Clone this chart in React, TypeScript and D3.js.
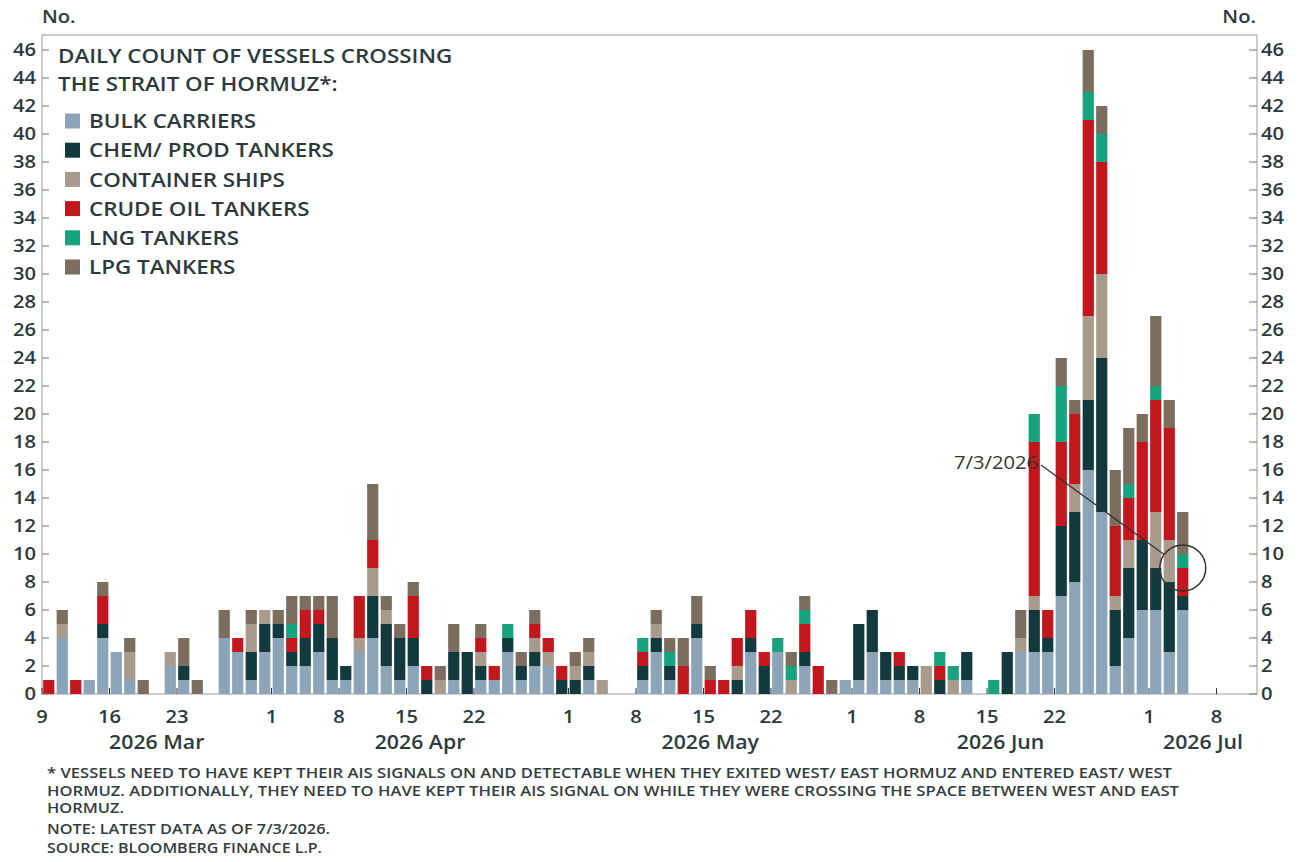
import React from "react";
import * as d3 from "d3";

// ---------- DATA ----------
const dates = [
  "2026-03-09","2026-03-10","2026-03-11","2026-03-12","2026-03-13","2026-03-16","2026-03-17","2026-03-18","2026-03-19","2026-03-20",
  "2026-03-23","2026-03-24","2026-03-25","2026-03-26","2026-03-27","2026-03-30","2026-03-31","2026-04-01","2026-04-02","2026-04-03",
  "2026-04-06","2026-04-07","2026-04-08","2026-04-09","2026-04-10","2026-04-13","2026-04-14","2026-04-15","2026-04-16","2026-04-17",
  "2026-04-20","2026-04-21","2026-04-22","2026-04-23","2026-04-24","2026-04-27","2026-04-28","2026-04-29","2026-04-30","2026-05-01",
  "2026-05-04","2026-05-05","2026-05-06","2026-05-07","2026-05-08","2026-05-11","2026-05-12","2026-05-13","2026-05-14","2026-05-15",
  "2026-05-18","2026-05-19","2026-05-20","2026-05-21","2026-05-22","2026-05-25","2026-05-26","2026-05-27","2026-05-28","2026-05-29",
  "2026-06-01","2026-06-02","2026-06-03","2026-06-04","2026-06-05","2026-06-08","2026-06-09","2026-06-10","2026-06-11","2026-06-12",
  "2026-06-15","2026-06-16","2026-06-17","2026-06-18","2026-06-19","2026-06-22","2026-06-23","2026-06-24","2026-06-25","2026-06-26",
  "2026-06-29","2026-06-30","2026-07-01","2026-07-02","2026-07-03",
];
const axisExtraDates = ["2026-07-06","2026-07-07","2026-07-08","2026-07-09","2026-07-10"];

const bulkCarriers = [
  0,4,0,1,4,3,1,0,0,2, 1,0,0,4,3,1,3,4,2,2, 3,1,1,3,4,2,1,2,0,0, 1,0,1,1,3,1,2,2,0,0,
  1,0,0,0,1,3,1,0,4,0, 0,0,3,0,3,0,2,0,0,1, 1,3,1,1,1,0,0,0,1,0, 0,0,3,3,3,7,8,16,13,2,
  4,6,6,3,6,
];
const chemProdTankers = [
  0,0,0,0,1,0,0,0,0,0, 1,0,0,0,0,2,2,1,1,2, 2,3,1,0,3,3,3,2,1,0, 2,3,1,0,1,1,1,0,1,1,
  1,0,0,0,1,1,1,0,1,0, 0,1,1,2,0,0,1,0,0,0, 4,3,2,1,1,0,1,0,2,0, 0,3,0,3,1,5,5,5,11,4,
  5,5,3,5,1,
];
const containerShips = [
  0,1,0,0,0,0,2,0,0,1, 0,0,0,0,0,2,1,0,0,0, 0,0,0,1,2,1,0,0,0,1, 0,0,1,0,0,0,1,1,0,1,
  1,1,0,0,0,1,0,0,0,0, 0,1,0,0,0,1,0,0,0,0, 0,0,0,0,0,2,0,1,0,0, 0,0,1,1,0,0,2,6,6,1,
  2,0,4,3,0,
];
const crudeOilTankers = [
  1,0,1,0,2,0,0,0,0,0, 0,0,0,0,1,0,0,0,1,2, 1,0,0,3,2,0,0,3,1,0, 0,0,1,1,0,0,1,1,1,0,
  0,0,0,0,1,0,0,2,0,1, 1,2,2,1,0,0,2,2,0,0, 0,0,0,1,0,0,1,0,0,0, 0,0,0,11,2,6,5,14,8,5,
  3,7,8,8,2,
];
const lngTankers = [
  0,0,0,0,0,0,0,0,0,0, 0,0,0,0,0,0,0,0,1,0, 0,0,0,0,0,0,0,0,0,0, 0,0,0,0,1,0,0,0,0,0,
  0,0,0,0,1,0,1,0,0,0, 0,0,0,0,1,1,1,0,0,0, 0,0,0,0,0,0,1,1,0,0, 1,0,0,2,0,4,0,2,2,0,
  1,0,1,0,1,
];
const lpgTankers = [
  0,1,0,0,1,0,1,1,0,0, 2,1,0,2,0,1,0,1,2,1, 1,3,0,0,4,1,1,1,0,1, 2,0,1,0,0,1,1,0,0,1,
  1,0,0,0,0,1,1,2,2,1, 0,0,0,0,0,1,1,0,1,0, 0,0,0,0,0,0,0,0,0,0, 0,0,2,0,0,2,1,3,2,4,
  4,2,5,2,3,
];

const seriesKeys = ["bulk", "chem", "container", "crude", "lng", "lpg"];
const seriesNames = ["BULK CARRIERS", "CHEM/ PROD TANKERS", "CONTAINER SHIPS", "CRUDE OIL TANKERS", "LNG TANKERS", "LPG TANKERS"];
const seriesColors = ["#8BA4B8", "#12393D", "#A99B8B", "#C1171D", "#18A37F", "#7D6D5E"];

const yTickValues = [0,2,4,6,8,10,12,14,16,18,20,22,24,26,28,30,32,34,36,38,40,42,44,46];
const xTickDates = ["2026-03-09","2026-03-16","2026-03-23","2026-04-01","2026-04-08","2026-04-15","2026-04-22","2026-05-01","2026-05-08","2026-05-15","2026-05-22","2026-06-01","2026-06-08","2026-06-15","2026-06-22","2026-07-01","2026-07-08"];
const xTickLabels = ["9","16","23","1","8","15","22","1","8","15","22","1","8","15","22","1","8"];
const monthKeys = ["2026-03","2026-04","2026-05","2026-06","2026-07"];
const monthLabels = ["2026 Mar","2026 Apr","2026 May","2026 Jun","2026 Jul"];

const titleLines = ["DAILY COUNT OF VESSELS CROSSING", "THE STRAIT OF HORMUZ*:"];
const annotationDate = "2026-07-03";
const annotationLabel = "7/3/2026";
const annotationValue = 9;
const footnotes = [
  "* VESSELS NEED TO HAVE KEPT THEIR AIS SIGNALS ON AND DETECTABLE WHEN THEY EXITED WEST/ EAST HORMUZ AND ENTERED EAST/ WEST",
  "HORMUZ. ADDITIONALLY, THEY NEED TO HAVE KEPT THEIR AIS SIGNAL ON WHILE THEY WERE CROSSING THE SPACE BETWEEN WEST AND EAST",
  "HORMUZ.",
  "NOTE: LATEST DATA AS OF 7/3/2026.",
  "SOURCE: BLOOMBERG FINANCE L.P.",
];

// ---------- LAYOUT ----------
const W = 1302;
const H = 862;
const PL = 42, PR = 1257, PT = 35, PB = 694;
const FONT = "'Open Sans', 'DejaVu Sans', sans-serif";
const TXT = "#2d3a3d";
const SX = 1.12;

function SText(props: any) {
  const { x, y, size, anchor = "start", weight = 600, fill = TXT, children, sx = SX } = props;
  return (
    <text
      transform={`translate(${x},${y}) scale(${sx},1)`}
      textAnchor={anchor}
      fontFamily={FONT}
      fontSize={size}
      fontWeight={weight}
      fill={fill}
    >
      {children}
    </text>
  );
}

export default function App() {
  const domain = [...dates, ...axisExtraDates];
  const x = d3.scaleBand<string>().domain(domain).range([PL, PR]).paddingInner(0.17).paddingOuter(0.085);
  const y = d3.scaleLinear().domain([0, 46]).range([PB, 50]);
  const step = x.step();
  const edge = (d: string) => (x(d) as number) - (step * x.paddingInner()) / 2;

  const rows = dates.map((d, i) => ({
    date: d,
    bulk: bulkCarriers[i],
    chem: chemProdTankers[i],
    container: containerShips[i],
    crude: crudeOilTankers[i],
    lng: lngTankers[i],
    lpg: lpgTankers[i],
  }));
  const stacked = d3.stack<any>().keys(seriesKeys)(rows);

  // month label centres
  const months = monthKeys.map((m, i) => {
    const idx = domain.map((d, j) => (d.startsWith(m) ? j : -1)).filter((j) => j >= 0);
    const a = edge(domain[idx[0]]);
    const b = edge(domain[idx[idx.length - 1]]) + step;
    return { label: monthLabels[i], cx: (a + b) / 2 };
  });

  // annotation
  const cx = (x(annotationDate) as number) + x.bandwidth() / 2;
  const cy = y(annotationValue);
  const r = 23;
  const lx0 = 1041, ly0 = 465;
  const dx = cx - lx0, dy = cy - ly0;
  const dist = Math.sqrt(dx * dx + dy * dy);
  const lx1 = cx - (dx / dist) * r;
  const ly1 = cy - (dy / dist) * r;

  const capOff = (s: number) => s * 0.36;

  return (
    <svg width={W} height={H} style={{ position: "absolute", left: 0, top: 0, background: "#fff" }}>
      <rect x={0} y={0} width={W} height={H} fill="#fff" />

      {/* frame */}
      <rect x={PL} y={PT} width={PR - PL} height={PB - PT} fill="none" stroke="#9c9c9c" strokeWidth={1} />

      {/* bars */}
      {stacked.map((s, si) => (
        <g key={s.key} fill={seriesColors[si]}>
          {s.map((seg: any, i: number) => {
            const h = y(seg[0]) - y(seg[1]);
            if (h <= 0) return null;
            return (
              <rect key={i} x={x(dates[i])} y={y(seg[1])} width={x.bandwidth()} height={h} />
            );
          })}
        </g>
      ))}

      {/* y ticks & labels */}
      {yTickValues.map((v) => (
        <g key={v}>
          <line x1={PL} x2={PL + 7} y1={y(v)} y2={y(v)} stroke="#7a7a7a" strokeWidth={1} />
          <line x1={PR - 8} x2={PR} y1={y(v)} y2={y(v)} stroke="#7a7a7a" strokeWidth={1} />
          <SText x={36} y={y(v) + capOff(18)} size={18} anchor="end">{v}</SText>
          <SText x={1261} y={y(v) + capOff(18)} size={18}>{v}</SText>
        </g>
      ))}

      {/* x ticks & labels */}
      {xTickDates.map((d, i) => (
        <g key={d}>
          <line x1={edge(d)} x2={edge(d)} y1={PB} y2={PB - 6} stroke="#333" strokeWidth={1} />
          <SText x={edge(d)} y={717 + capOff(18)} size={18} anchor="middle">{xTickLabels[i]}</SText>
        </g>
      ))}
      {months.map((m) => (
        <SText key={m.label} x={m.cx} y={742 + capOff(19)} size={19} anchor="middle">{m.label}</SText>
      ))}

      {/* units */}
      <SText x={42} y={17 + capOff(18)} size={18}>No.</SText>
      <SText x={1256} y={17 + capOff(18)} size={18} anchor="end">No.</SText>

      {/* title */}
      {titleLines.map((t, i) => (
        <SText key={t} x={58} y={56 + i * 28 + capOff(20)} size={20}>{t}</SText>
      ))}

      {/* legend */}
      {seriesNames.map((n, i) => {
        const ly = 121 + i * 29.2;
        return (
          <g key={n}>
            <rect x={65} y={ly - 7.5} width={15} height={15} fill={seriesColors[i]} />
            <SText x={89} y={ly + capOff(20)} size={20}>{n}</SText>
          </g>
        );
      })}

      {/* annotation */}
      <line x1={lx0} y1={ly0} x2={lx1} y2={ly1} stroke="#333" strokeWidth={1.3} />
      <circle cx={cx} cy={cy} r={r} fill="none" stroke="#333" strokeWidth={1.5} />
      <SText x={1038} y={463 + capOff(18)} size={18} anchor="end" weight={400} fill="#333">{annotationLabel}</SText>

      {/* footnotes */}
      {footnotes.map((f, i) => {
        const ys = [773, 791, 808, 829, 848];
        const lens = [1125, 1132, 77, 283, 275];
        return (
          <text
            key={i}
            x={47}
            y={ys[i] + capOff(14)}
            fontFamily={FONT}
            fontSize={14}
            fontWeight={600}
            fill="#333d40"
            textLength={lens[i]}
            lengthAdjust="spacingAndGlyphs"
          >
            {f}
          </text>
        );
      })}
    </svg>
  );
}
